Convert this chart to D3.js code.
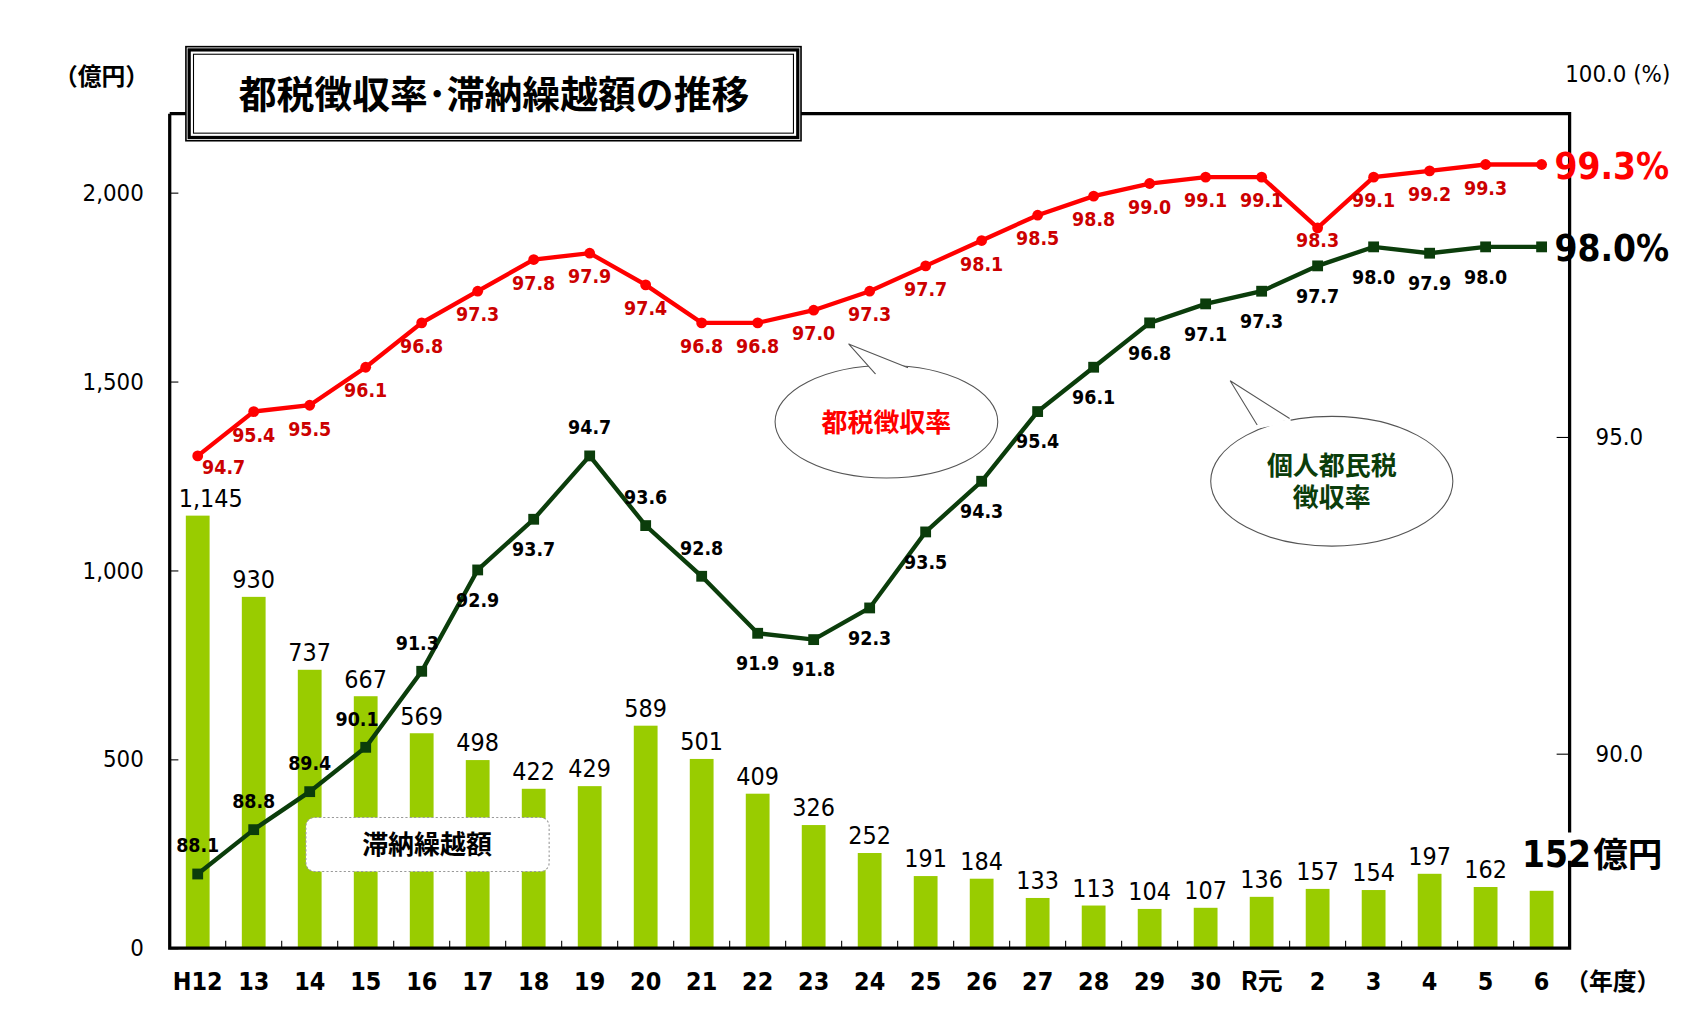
<!DOCTYPE html>
<html>
<head>
<meta charset="utf-8">
<script src="https://cdn.jsdelivr.net/npm/d3@7/dist/d3.min.js"></script>
<style>
  html, body { margin:0; background:#fff; }
  text { font-family: "DejaVu Sans Condensed", "Liberation Sans Narrow", "Liberation Sans", sans-serif; font-stretch: condensed; }
  .jp { font-family: "Noto Sans CJK JP", sans-serif; font-weight:bold; }
</style>
</head>
<body>
<script>
var years = ["H12","13","14","15","16","17","18","19","20","21","22","23","24","25","26","27","28","29","30","R元","2","3","4","5","6"];
var arrears = [1145,930,737,667,569,498,422,429,589,501,409,326,252,191,184,133,113,104,107,136,157,154,197,162,152];
var metroRate = [94.7,95.4,95.5,96.1,96.8,97.3,97.8,97.9,97.4,96.8,96.8,97.0,97.3,97.7,98.1,98.5,98.8,99.0,99.1,99.1,98.3,99.1,99.2,99.3,99.3];
var residentRate = [88.1,88.8,89.4,90.1,91.3,92.9,93.7,94.7,93.6,92.8,91.9,91.8,92.3,93.5,94.3,95.4,96.1,96.8,97.1,97.3,97.7,98.0,97.9,98.0,98.0];
// label side for resident rate: a = above, b = below
var residentSide = ["a","a","a","a","a","b","b","a","a","a","b","b","b","b","b","b","b","b","b","b","b","b","b","b","b"];
var leftTicks = [0,500,1000,1500,2000];
var rightTicks = [90,95,100];

var W = 1568, H = 946;
var L = 157, R = 1452, B = 877, T = 105;

var svg = d3.select("body").append("svg")
  .attr("width", 1695).attr("height", 1023)
  .attr("viewBox", "0 0 " + W + " " + H);

var x = d3.scaleBand().domain(years).range([L, R]);
var yL = d3.scaleLinear().domain([0, 2000]).range([B, 178]);
var yR = d3.scaleLinear().domain([90, 95]).range([697, 404]);
var cx = function(i){ return x(years[i]) + x.bandwidth()/2; };

// bars
svg.selectAll("rect.bar").data(arrears).enter().append("rect")
  .attr("x", function(d,i){ return cx(i) - 11; })
  .attr("width", 22)
  .attr("y", function(d){ return yL(d); })
  .attr("height", function(d){ return B - yL(d); })
  .attr("fill", "#99cc00");

svg.selectAll("text.barlab").data(arrears).enter().append("text")
  .filter(function(d,i){ return i < arrears.length - 1; })
  .attr("x", function(d,i){ return cx(i) + (i === 0 ? 12 : 0); })
  .attr("y", function(d){ return yL(d) - 8; })
  .attr("text-anchor", "middle").attr("font-size", 23)
  .text(function(d){ return d3.format(",")(d); });

// axes frame
var frame = svg.append("g").attr("stroke", "#000").attr("stroke-width", 3).attr("fill", "none");
frame.append("path").attr("d", "M" + L + "," + T + "V" + B + "H" + R + "V" + 796 + "M" + R + "," + 770 + "V" + T + "H741M172," + T + "H" + L);

svg.append("g").attr("transform", "translate(" + L + ",0)")
  .call(d3.axisLeft(yL).tickValues(leftTicks).tickSize(-8).tickPadding(24).tickFormat(d3.format(",")))
  .call(function(g){ g.select(".domain").remove(); g.selectAll("text").attr("font-size", 22).attr("font-family", null); });

svg.append("g").attr("transform", "translate(" + R + ",0)")
  .call(d3.axisRight(yR).tickValues([90,95]).tickSize(-12).tickPadding(24).tickFormat(d3.format(".1f")))
  .call(function(g){ g.select(".domain").remove(); g.selectAll("text").attr("font-size", 22).attr("font-family", null); });

svg.append("text").attr("x", 1448).attr("y", yR(rightTicks[2]) - 35).attr("font-size", 22).text("100.0 (%)");

// x ticks between categories
svg.selectAll("line.xt").data(years.slice(1)).enter().append("line")
  .attr("x1", function(d){ return x(d); }).attr("x2", function(d){ return x(d); })
  .attr("y1", B).attr("y2", B - 7).attr("stroke", "#000").attr("stroke-width", 1);
svg.selectAll("text.xl").data(years).enter().append("text")
  .attr("x", function(d,i){ return cx(i); }).attr("y", 916)
  .attr("text-anchor", "middle").attr("font-size", 23).attr("font-weight", "bold")
  .attr("class", function(d){ return d === "R元" ? "jp" : null; })
  .text(function(d){ return d; });
svg.append("text").attr("class", "jp").attr("x", 1448).attr("y", 916).attr("font-size", 22).attr("font-weight", "normal").text("（年度）");
svg.append("text").attr("class", "jp").attr("x", 50).attr("y", 78).attr("font-size", 22).attr("font-weight", "normal").text("（億円）");

// lines
function drawLine(vals, color, marker) {
  var line = d3.line().x(function(d,i){ return cx(i); }).y(function(d){ return yR(d); });
  svg.append("path").datum(vals).attr("d", line).attr("fill", "none").attr("stroke", color).attr("stroke-width", 4);
  if (marker === "circle") {
    svg.selectAll(null).data(vals).enter().append("circle")
      .attr("cx", function(d,i){ return cx(i); }).attr("cy", function(d){ return yR(d); })
      .attr("r", 5).attr("fill", color);
  } else {
    svg.selectAll(null).data(vals).enter().append("rect")
      .attr("x", function(d,i){ return cx(i) - 5; }).attr("y", function(d){ return yR(d) - 5; })
      .attr("width", 10).attr("height", 10).attr("fill", color);
  }
}
drawLine(metroRate, "#ff0000", "circle");
drawLine(residentRate, "#0b3d0b", "square");

svg.selectAll(null).data(metroRate).enter().append("text")
  .filter(function(d,i){ return i < metroRate.length - 1; })
  .attr("x", function(d,i){ return cx(i) + (i === 0 ? 24 : 0); })
  .attr("y", function(d,i){ return yR(d) + (i === 0 ? 17 : i === 20 ? 18 : 28); })
  .attr("text-anchor", "middle").attr("font-size", 18).attr("font-weight", "bold").attr("fill", "#cc0000")
  .text(function(d){ return d.toFixed(1); });

svg.selectAll(null).data(residentRate).enter().append("text")
  .filter(function(d,i){ return i < residentRate.length - 1; })
  .attr("x", function(d,i){ return cx(i) + (i === 4 ? -4 : i === 3 ? -8 : 0); })
  .attr("y", function(d,i){ return yR(d) + (residentSide[i] === "a" ? -20 : 34); })
  .attr("text-anchor", "middle").attr("font-size", 18).attr("font-weight", "bold").attr("fill", "#000")
  .text(function(d){ return d.toFixed(1); });

// end labels
var last = years.length - 1;
svg.append("text").attr("x", 1438).attr("y", yR(metroRate[last]) + 13).attr("font-size", 34).attr("font-weight", "bold")
  .attr("fill", "#ff0000").attr("font-family", "Liberation Sans, sans-serif").text(metroRate[last].toFixed(1) + "%");
svg.append("text").attr("x", 1438).attr("y", yR(residentRate[last]) + 13).attr("font-size", 34).attr("font-weight", "bold")
  .attr("fill", "#000").attr("font-family", "Liberation Sans, sans-serif").text(residentRate[last].toFixed(1) + "%");
var endLab = svg.append("text").attr("x", 1408).attr("y", yL(arrears[last]) - 22).attr("font-weight", "bold");
endLab.append("tspan").attr("font-size", 34).text(arrears[last]);
endLab.append("tspan").attr("class", "jp").attr("font-size", 32).attr("dx", 2).text("億円");

// title box
var tb = svg.append("g");
tb.append("rect").attr("x", 172).attr("y", 43).attr("width", 569).attr("height", 87).attr("fill", "#fff").attr("stroke", "#000").attr("stroke-width", 1.5);
tb.append("rect").attr("x", 175).attr("y", 46).attr("width", 563).attr("height", 81).attr("fill", "none").attr("stroke", "#000").attr("stroke-width", 3);
tb.append("rect").attr("x", 179).attr("y", 50).attr("width", 555).attr("height", 73).attr("fill", "none").attr("stroke", "#000").attr("stroke-width", 1);
tb.append("text").attr("class", "jp").attr("x", 457).attr("y", 100).attr("text-anchor", "middle").attr("font-size", 35).text("都税徴収率･滞納繰越額の推移");

// callouts
function callout(cxp, cyp, rx, ry, tipx, tipy, lines, color) {
  var g = svg.append("g");
  g.append("ellipse").attr("cx", cxp).attr("cy", cyp).attr("rx", rx).attr("ry", ry)
    .attr("fill", "#fff").attr("stroke", "#555").attr("stroke-width", 1);
  g.append("path").attr("d", "M" + (tipx + 25) + "," + (cyp - ry + 8) + "L" + tipx + "," + tipy + "L" + (tipx + 55) + "," + (cyp - ry + 2))
    .attr("fill", "#fff").attr("stroke", "#555").attr("stroke-width", 1);
  g.append("path").attr("d", "M" + (tipx + 24) + "," + (cyp - ry + 10) + "L" + (tipx + 56) + "," + (cyp - ry + 4))
    .attr("stroke", "#fff").attr("stroke-width", 3);
  lines.forEach(function(t, k){
    g.append("text").attr("class", "jp").attr("x", cxp).attr("y", cyp + 9 + (k - (lines.length - 1)/2) * 30)
      .attr("text-anchor", "middle").attr("font-size", 24).attr("fill", color).text(t);
  });
}
callout(820, 390, 103, 52, 785, 318, ["都税徴収率"], "#ff0000");
callout(1232, 445, 112, 60, 1138, 352, ["個人都民税", "徴収率"], "#0b3d0b");

var lg = svg.append("g");
lg.append("rect").attr("x", 283).attr("y", 756).attr("width", 225).attr("height", 50).attr("rx", 8)
  .attr("fill", "#fff").attr("stroke", "#999").attr("stroke-dasharray", "2,2");
lg.append("text").attr("class", "jp").attr("x", 395).attr("y", 790).attr("text-anchor", "middle").attr("font-size", 24).text("滞納繰越額");
</script>
</body>
</html>
